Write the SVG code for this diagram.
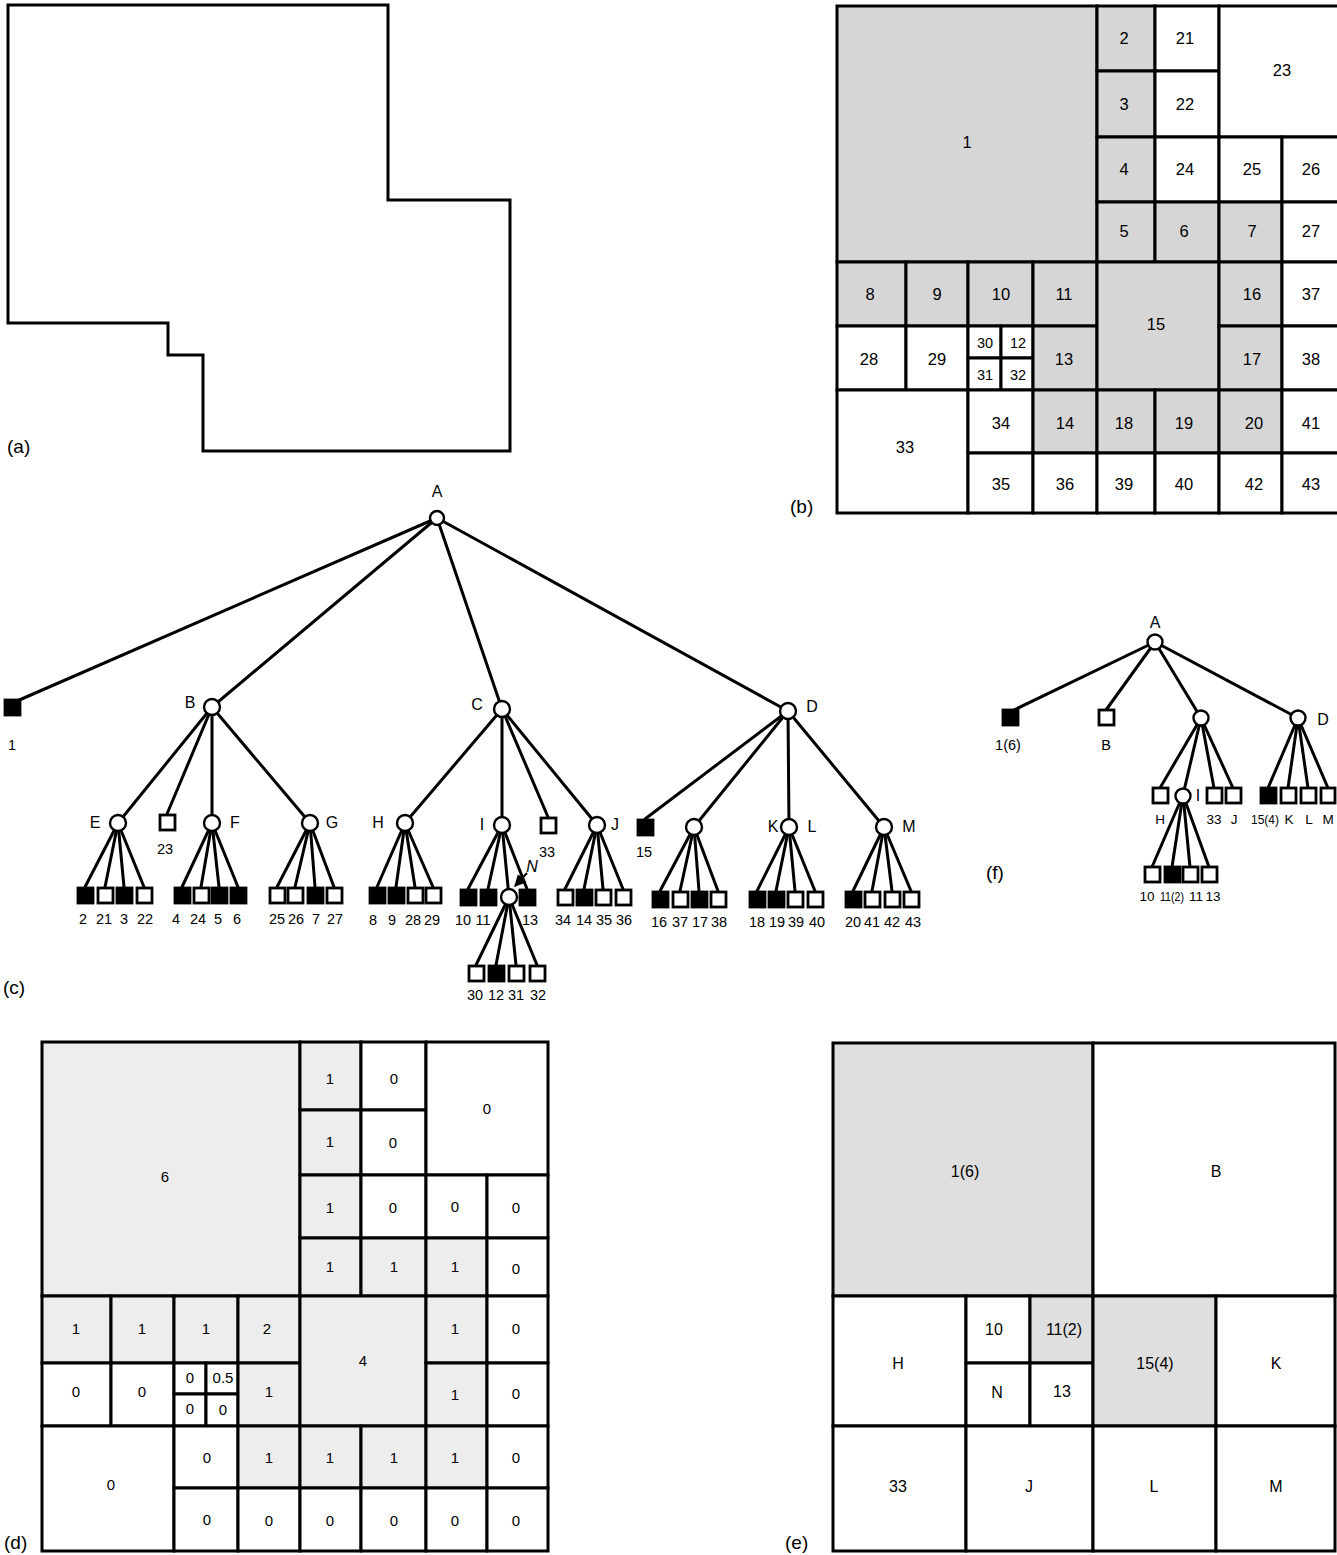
<svg xmlns="http://www.w3.org/2000/svg" width="1337" height="1555" viewBox="0 0 1337 1555">
<style>
text { font-family: "Liberation Sans", Arial, sans-serif; fill: #000; text-anchor: middle; }
.cap { font-size: 19px; text-anchor: start; }
.gb { font-size: 16.5px; }
.gs { font-size: 14.5px; }
.gd { font-size: 15px; }
.ge { font-size: 16px; }
.tl { font-size: 14.5px; }
.tf { font-size: 13.5px; }
.tn { font-size: 16px; }
.cell { stroke: #000; stroke-width: 3; }
.w { fill: #fff; }
.sb { fill: #d6d6d6; }
.sd { fill: #ededed; }
.se { fill: #dfdfdf; }
.edge { stroke: #000; stroke-width: 3; fill: none; stroke-linecap: round; }
.nd { fill: #fff; stroke: #000; stroke-width: 2.4; }
.lw { fill: #fff; stroke: #000; stroke-width: 2.8; }
.lk { fill: #000; stroke: #000; stroke-width: 2.8; }
</style>
<defs>
<marker id="arr" viewBox="0 0 10 10" refX="9" refY="5" markerWidth="6" markerHeight="6" orient="auto">
<path d="M0,0 L10,5 L0,10 z" fill="#000"/>
</marker>
</defs>

<!-- (a) region outline -->
<g id="panel-a">
<polygon points="8,5 388,5 388,200 510,200 510,451 203,451 203,355 168,355 168,323 8,323" fill="none" stroke="#000" stroke-width="3"/>
<text class="cap" x="7" y="453">(a)</text>
</g>

<!-- (b) quadtree blocks -->
<g id="panel-b">
<rect class="cell sb" x="837" y="6" width="260" height="256"/>
<rect class="cell sb" x="1097" y="6" width="58" height="65"/>
<rect class="cell w" x="1155" y="6" width="64" height="65"/>
<rect class="cell sb" x="1097" y="71" width="58" height="66"/>
<rect class="cell w" x="1155" y="71" width="64" height="66"/>
<rect class="cell w" x="1219" y="6" width="126" height="131"/>
<rect class="cell sb" x="1097" y="137" width="58" height="65"/>
<rect class="cell w" x="1155" y="137" width="64" height="65"/>
<rect class="cell w" x="1219" y="137" width="63" height="65"/>
<rect class="cell w" x="1282" y="137" width="63" height="65"/>
<rect class="cell sb" x="1097" y="202" width="58" height="60"/>
<rect class="cell sb" x="1155" y="202" width="64" height="60"/>
<rect class="cell sb" x="1219" y="202" width="63" height="60"/>
<rect class="cell w" x="1282" y="202" width="63" height="60"/>
<rect class="cell sb" x="837" y="262" width="69" height="64"/>
<rect class="cell sb" x="906" y="262" width="62" height="64"/>
<rect class="cell sb" x="968" y="262" width="65" height="64"/>
<rect class="cell sb" x="1033" y="262" width="64" height="64"/>
<rect class="cell w" x="837" y="326" width="69" height="64"/>
<rect class="cell w" x="906" y="326" width="62" height="64"/>
<rect class="cell w" x="968" y="326" width="33" height="32"/>
<rect class="cell w" x="1001" y="326" width="32" height="32"/>
<rect class="cell w" x="968" y="358" width="33" height="32"/>
<rect class="cell w" x="1001" y="358" width="32" height="32"/>
<rect class="cell sb" x="1033" y="326" width="64" height="64"/>
<rect class="cell sb" x="1097" y="262" width="122" height="128"/>
<rect class="cell sb" x="1219" y="262" width="63" height="64"/>
<rect class="cell w" x="1282" y="262" width="63" height="64"/>
<rect class="cell sb" x="1219" y="326" width="63" height="64"/>
<rect class="cell w" x="1282" y="326" width="63" height="64"/>
<rect class="cell w" x="837" y="390" width="131" height="123"/>
<rect class="cell w" x="968" y="390" width="65" height="63"/>
<rect class="cell sb" x="1033" y="390" width="64" height="63"/>
<rect class="cell w" x="968" y="453" width="65" height="60"/>
<rect class="cell w" x="1033" y="453" width="64" height="60"/>
<rect class="cell sb" x="1097" y="390" width="58" height="63"/>
<rect class="cell sb" x="1155" y="390" width="64" height="63"/>
<rect class="cell w" x="1097" y="453" width="58" height="60"/>
<rect class="cell w" x="1155" y="453" width="64" height="60"/>
<rect class="cell sb" x="1219" y="390" width="63" height="63"/>
<rect class="cell w" x="1282" y="390" width="63" height="63"/>
<rect class="cell w" x="1219" y="453" width="63" height="60"/>
<rect class="cell w" x="1282" y="453" width="63" height="60"/>
<g class="gb">
<text x="967" y="148">1</text>
<text x="1124" y="44">2</text>
<text x="1185" y="44">21</text>
<text x="1124" y="110">3</text>
<text x="1185" y="110">22</text>
<text x="1282" y="76">23</text>
<text x="1124" y="175">4</text>
<text x="1185" y="175">24</text>
<text x="1252" y="175">25</text>
<text x="1311" y="175">26</text>
<text x="1124" y="237">5</text>
<text x="1184" y="237">6</text>
<text x="1252" y="237">7</text>
<text x="1311" y="237">27</text>
<text x="870" y="300">8</text>
<text x="937" y="300">9</text>
<text x="1001" y="300">10</text>
<text x="1064" y="300">11</text>
<text x="869" y="365">28</text>
<text x="937" y="365">29</text>
<text x="1064" y="365">13</text>
<text x="1156" y="330">15</text>
<text x="1252" y="300">16</text>
<text x="1311" y="300">37</text>
<text x="1252" y="365">17</text>
<text x="1311" y="365">38</text>
<text x="905" y="453">33</text>
<text x="1001" y="429">34</text>
<text x="1065" y="429">14</text>
<text x="1001" y="490">35</text>
<text x="1065" y="490">36</text>
<text x="1124" y="429">18</text>
<text x="1184" y="429">19</text>
<text x="1124" y="490">39</text>
<text x="1184" y="490">40</text>
<text x="1254" y="429">20</text>
<text x="1311" y="429">41</text>
<text x="1254" y="490">42</text>
<text x="1311" y="490">43</text>
</g>
<g class="gs">
<text x="985" y="348">30</text>
<text x="1018" y="348">12</text>
<text x="985" y="380">31</text>
<text x="1018" y="380">32</text>
</g>
<text class="cap" x="790" y="513">(b)</text>
</g>

<!-- (c) tree: connectors -->
<g id="connectors-c">
<line class="edge" x1="437" y1="518" x2="17" y2="701"/>
<line class="edge" x1="437" y1="518" x2="212" y2="707"/>
<line class="edge" x1="437" y1="518" x2="502" y2="709"/>
<line class="edge" x1="437" y1="518" x2="788" y2="711"/>
<line class="edge" x1="212" y1="707" x2="118" y2="823"/>
<line class="edge" x1="212" y1="707" x2="167" y2="814"/>
<line class="edge" x1="212" y1="707" x2="212" y2="823"/>
<line class="edge" x1="212" y1="707" x2="310" y2="823"/>
<line class="edge" x1="502" y1="709" x2="405" y2="823"/>
<line class="edge" x1="502" y1="709" x2="502" y2="825"/>
<line class="edge" x1="502" y1="709" x2="548" y2="817"/>
<line class="edge" x1="502" y1="709" x2="597" y2="825"/>
<line class="edge" x1="788" y1="711" x2="645" y2="819"/>
<line class="edge" x1="788" y1="711" x2="694" y2="827"/>
<line class="edge" x1="788" y1="711" x2="789" y2="827"/>
<line class="edge" x1="788" y1="711" x2="884" y2="827"/>
<line class="edge" x1="118" y1="823" x2="85" y2="887"/>
<line class="edge" x1="118" y1="823" x2="105" y2="887"/>
<line class="edge" x1="118" y1="823" x2="124" y2="887"/>
<line class="edge" x1="118" y1="823" x2="144" y2="887"/>
<line class="edge" x1="212" y1="823" x2="182" y2="887"/>
<line class="edge" x1="212" y1="823" x2="201" y2="887"/>
<line class="edge" x1="212" y1="823" x2="219" y2="887"/>
<line class="edge" x1="212" y1="823" x2="238" y2="887"/>
<line class="edge" x1="310" y1="823" x2="277" y2="887"/>
<line class="edge" x1="310" y1="823" x2="295" y2="887"/>
<line class="edge" x1="310" y1="823" x2="315" y2="887"/>
<line class="edge" x1="310" y1="823" x2="334" y2="887"/>
<line class="edge" x1="405" y1="823" x2="377" y2="887"/>
<line class="edge" x1="405" y1="823" x2="396" y2="887"/>
<line class="edge" x1="405" y1="823" x2="415" y2="887"/>
<line class="edge" x1="405" y1="823" x2="433" y2="887"/>
<line class="edge" x1="502" y1="825" x2="468" y2="889"/>
<line class="edge" x1="502" y1="825" x2="488" y2="889"/>
<line class="edge" x1="502" y1="825" x2="509" y2="897"/>
<line class="edge" x1="502" y1="825" x2="527" y2="889"/>
<line class="edge" x1="509" y1="897" x2="476" y2="965"/>
<line class="edge" x1="509" y1="897" x2="496" y2="965"/>
<line class="edge" x1="509" y1="897" x2="516" y2="965"/>
<line class="edge" x1="509" y1="897" x2="537" y2="965"/>
<line class="edge" x1="597" y1="825" x2="565" y2="889"/>
<line class="edge" x1="597" y1="825" x2="584" y2="889"/>
<line class="edge" x1="597" y1="825" x2="603" y2="889"/>
<line class="edge" x1="597" y1="825" x2="623" y2="889"/>
<line class="edge" x1="694" y1="827" x2="660" y2="891"/>
<line class="edge" x1="694" y1="827" x2="680" y2="891"/>
<line class="edge" x1="694" y1="827" x2="699" y2="891"/>
<line class="edge" x1="694" y1="827" x2="718" y2="891"/>
<line class="edge" x1="789" y1="827" x2="757" y2="891"/>
<line class="edge" x1="789" y1="827" x2="776" y2="891"/>
<line class="edge" x1="789" y1="827" x2="795" y2="891"/>
<line class="edge" x1="789" y1="827" x2="815" y2="891"/>
<line class="edge" x1="884" y1="827" x2="853" y2="891"/>
<line class="edge" x1="884" y1="827" x2="872" y2="891"/>
<line class="edge" x1="884" y1="827" x2="892" y2="891"/>
<line class="edge" x1="884" y1="827" x2="911" y2="891"/>
<line x1="527" y1="873" x2="515" y2="886" stroke="#000" stroke-width="2" marker-end="url(#arr)"/>
</g>

<!-- (c) tree: nodes -->
<g id="nodes-c">
<g id="c-A"><circle class="nd" cx="437" cy="518" r="7"/><text class="tn" x="437" y="497">A</text></g>
<g id="c-1"><rect class="lk" x="5" y="700" width="15" height="15"/><text class="tl" x="12" y="750">1</text></g>
<g id="c-B"><circle class="nd" cx="212" cy="707" r="8"/><text class="tn" x="190" y="708">B</text></g>
<g id="c-C"><circle class="nd" cx="502" cy="709" r="8"/><text class="tn" x="477" y="710">C</text></g>
<g id="c-D"><circle class="nd" cx="788" cy="711" r="8"/><text class="tn" x="812" y="712">D</text></g>
<g id="c-E"><circle class="nd" cx="118" cy="823" r="8"/><text class="tn" x="95" y="828">E</text></g>
<g id="c-23"><rect class="lw" x="160" y="815" width="15" height="15"/><text class="tl" x="165" y="854">23</text></g>
<g id="c-F"><circle class="nd" cx="212" cy="823" r="8"/><text class="tn" x="235" y="828">F</text></g>
<g id="c-G"><circle class="nd" cx="310" cy="823" r="8"/><text class="tn" x="332" y="828">G</text></g>
<g id="c-H"><circle class="nd" cx="405" cy="823" r="8"/><text class="tn" x="378" y="828">H</text></g>
<g id="c-I"><circle class="nd" cx="502" cy="825" r="8"/><text class="tn" x="482" y="830">I</text></g>
<g id="c-33"><rect class="lw" x="541" y="818" width="15" height="15"/><text class="tl" x="547" y="857">33</text></g>
<g id="c-J"><circle class="nd" cx="597" cy="825" r="8"/><text class="tn" x="615" y="830">J</text></g>
<g id="c-15"><rect class="lk" x="638" y="820" width="15" height="15"/><text class="tl" x="644" y="857">15</text></g>
<g id="c-U"><circle class="nd" cx="694" cy="827" r="8"/></g>
<g id="c-KL"><circle class="nd" cx="789" cy="827" r="8"/><text class="tn" x="773" y="832">K</text><text class="tn" x="812" y="832">L</text></g>
<g id="c-M"><circle class="nd" cx="884" cy="827" r="8"/><text class="tn" x="909" y="832">M</text></g>
<g id="c-N"><circle class="nd" cx="509" cy="897" r="8"/><text class="tn" x="532" y="872" font-style="italic">N</text></g>
<!-- leaves of E -->
<g id="c-2"><rect class="lk" x="78" y="888" width="15" height="15"/><text class="tl" x="83" y="924">2</text></g>
<g id="c-21"><rect class="lw" x="98" y="888" width="15" height="15"/><text class="tl" x="104" y="924">21</text></g>
<g id="c-3"><rect class="lk" x="117" y="888" width="15" height="15"/><text class="tl" x="124" y="924">3</text></g>
<g id="c-22"><rect class="lw" x="137" y="888" width="15" height="15"/><text class="tl" x="145" y="924">22</text></g>
<!-- leaves of F -->
<g id="c-4"><rect class="lk" x="175" y="888" width="15" height="15"/><text class="tl" x="176" y="924">4</text></g>
<g id="c-24"><rect class="lw" x="194" y="888" width="15" height="15"/><text class="tl" x="198" y="924">24</text></g>
<g id="c-5"><rect class="lk" x="212" y="888" width="15" height="15"/><text class="tl" x="218" y="924">5</text></g>
<g id="c-6"><rect class="lk" x="231" y="888" width="15" height="15"/><text class="tl" x="237" y="924">6</text></g>
<!-- leaves of G -->
<g id="c-25"><rect class="lw" x="270" y="888" width="15" height="15"/><text class="tl" x="277" y="924">25</text></g>
<g id="c-26"><rect class="lw" x="288" y="888" width="15" height="15"/><text class="tl" x="296" y="924">26</text></g>
<g id="c-7"><rect class="lk" x="308" y="888" width="15" height="15"/><text class="tl" x="316" y="924">7</text></g>
<g id="c-27"><rect class="lw" x="327" y="888" width="15" height="15"/><text class="tl" x="335" y="924">27</text></g>
<!-- leaves of H -->
<g id="c-8"><rect class="lk" x="370" y="888" width="15" height="15"/><text class="tl" x="373" y="925">8</text></g>
<g id="c-9"><rect class="lk" x="389" y="888" width="15" height="15"/><text class="tl" x="392" y="925">9</text></g>
<g id="c-28"><rect class="lw" x="408" y="888" width="15" height="15"/><text class="tl" x="413" y="925">28</text></g>
<g id="c-29"><rect class="lw" x="426" y="888" width="15" height="15"/><text class="tl" x="432" y="925">29</text></g>
<!-- leaves of I -->
<g id="c-10"><rect class="lk" x="461" y="890" width="15" height="15"/><text class="tl" x="463" y="925">10</text></g>
<g id="c-11"><rect class="lk" x="481" y="890" width="15" height="15"/><text class="tl" x="483" y="925">11</text></g>
<g id="c-13"><rect class="lk" x="520" y="890" width="15" height="15"/><text class="tl" x="530" y="925">13</text></g>
<!-- leaves of N -->
<g id="c-30"><rect class="lw" x="469" y="966" width="15" height="15"/><text class="tl" x="475" y="1000">30</text></g>
<g id="c-12"><rect class="lk" x="489" y="966" width="15" height="15"/><text class="tl" x="496" y="1000">12</text></g>
<g id="c-31"><rect class="lw" x="509" y="966" width="15" height="15"/><text class="tl" x="516" y="1000">31</text></g>
<g id="c-32"><rect class="lw" x="530" y="966" width="15" height="15"/><text class="tl" x="538" y="1000">32</text></g>
<!-- leaves of J -->
<g id="c-34"><rect class="lw" x="558" y="890" width="15" height="15"/><text class="tl" x="563" y="925">34</text></g>
<g id="c-14"><rect class="lk" x="577" y="890" width="15" height="15"/><text class="tl" x="584" y="925">14</text></g>
<g id="c-35"><rect class="lw" x="596" y="890" width="15" height="15"/><text class="tl" x="604" y="925">35</text></g>
<g id="c-36"><rect class="lw" x="616" y="890" width="15" height="15"/><text class="tl" x="624" y="925">36</text></g>
<!-- leaves of unlabeled -->
<g id="c-16"><rect class="lk" x="653" y="892" width="15" height="15"/><text class="tl" x="659" y="927">16</text></g>
<g id="c-37"><rect class="lw" x="673" y="892" width="15" height="15"/><text class="tl" x="680" y="927">37</text></g>
<g id="c-17"><rect class="lk" x="692" y="892" width="15" height="15"/><text class="tl" x="700" y="927">17</text></g>
<g id="c-38"><rect class="lw" x="711" y="892" width="15" height="15"/><text class="tl" x="719" y="927">38</text></g>
<!-- leaves of K/L -->
<g id="c-18"><rect class="lk" x="750" y="892" width="15" height="15"/><text class="tl" x="757" y="927">18</text></g>
<g id="c-19"><rect class="lk" x="769" y="892" width="15" height="15"/><text class="tl" x="777" y="927">19</text></g>
<g id="c-39"><rect class="lw" x="788" y="892" width="15" height="15"/><text class="tl" x="796" y="927">39</text></g>
<g id="c-40"><rect class="lw" x="808" y="892" width="15" height="15"/><text class="tl" x="817" y="927">40</text></g>
<!-- leaves of M -->
<g id="c-20"><rect class="lk" x="846" y="892" width="15" height="15"/><text class="tl" x="853" y="927">20</text></g>
<g id="c-41"><rect class="lw" x="865" y="892" width="15" height="15"/><text class="tl" x="872" y="927">41</text></g>
<g id="c-42"><rect class="lw" x="885" y="892" width="15" height="15"/><text class="tl" x="892" y="927">42</text></g>
<g id="c-43"><rect class="lw" x="904" y="892" width="15" height="15"/><text class="tl" x="913" y="927">43</text></g>
</g>
<text class="cap" x="3" y="994">(c)</text>

<!-- (f) tree: connectors -->
<g id="connectors-f">
<line class="edge" x1="1155" y1="642" x2="1014" y2="710"/>
<line class="edge" x1="1155" y1="642" x2="1106" y2="710"/>
<line class="edge" x1="1155" y1="642" x2="1201" y2="718"/>
<line class="edge" x1="1155" y1="642" x2="1298" y2="718"/>
<line class="edge" x1="1201" y1="718" x2="1160" y2="788"/>
<line class="edge" x1="1201" y1="718" x2="1183" y2="795"/>
<line class="edge" x1="1201" y1="718" x2="1214" y2="788"/>
<line class="edge" x1="1201" y1="718" x2="1233" y2="788"/>
<line class="edge" x1="1298" y1="718" x2="1268" y2="788"/>
<line class="edge" x1="1298" y1="718" x2="1288" y2="788"/>
<line class="edge" x1="1298" y1="718" x2="1308" y2="788"/>
<line class="edge" x1="1298" y1="718" x2="1328" y2="788"/>
<line class="edge" x1="1183" y1="795" x2="1152" y2="867"/>
<line class="edge" x1="1183" y1="795" x2="1172" y2="867"/>
<line class="edge" x1="1183" y1="795" x2="1190" y2="867"/>
<line class="edge" x1="1183" y1="795" x2="1209" y2="867"/>
</g>
<g id="nodes-f">
<g id="f-A"><circle class="nd" cx="1155" cy="642" r="7.5"/><text class="tn" x="1155" y="628">A</text></g>
<g id="f-16"><rect class="lk" x="1003" y="710" width="15" height="15"/><text class="tl" x="1008" y="750">1(6)</text></g>
<g id="f-B"><rect class="lw" x="1099" y="710" width="15" height="15"/><text class="tl" x="1106" y="750">B</text></g>
<g id="f-C"><circle class="nd" cx="1201" cy="718" r="7.5"/></g>
<g id="f-D"><circle class="nd" cx="1298" cy="718" r="7.5"/><text class="tn" x="1323" y="725">D</text></g>
<g id="f-H"><rect class="lw" x="1153" y="788" width="15" height="15"/><text class="tf" x="1160" y="824">H</text></g>
<g id="f-I"><circle class="nd" cx="1183" cy="796" r="7.5"/><text class="tn" x="1198" y="801">I</text></g>
<g id="f-33"><rect class="lw" x="1207" y="788" width="15" height="15"/><text class="tf" x="1214" y="824">33</text></g>
<g id="f-J"><rect class="lw" x="1226" y="788" width="15" height="15"/><text class="tf" x="1234" y="824">J</text></g>
<g id="f-154"><rect class="lk" x="1261" y="788" width="15" height="15"/><text class="tf" x="1265" y="824" textLength="28" lengthAdjust="spacingAndGlyphs">15(4)</text></g>
<g id="f-K"><rect class="lw" x="1281" y="788" width="15" height="15"/><text class="tf" x="1289" y="824">K</text></g>
<g id="f-L"><rect class="lw" x="1301" y="788" width="15" height="15"/><text class="tf" x="1309" y="824">L</text></g>
<g id="f-M"><rect class="lw" x="1321" y="788" width="14" height="15"/><text class="tf" x="1328" y="824">M</text></g>
<g id="f-10"><rect class="lw" x="1145" y="867" width="15" height="15"/><text class="tf" x="1147" y="901">10</text></g>
<g id="f-112"><rect class="lk" x="1165" y="867" width="15" height="15"/><text class="tf" x="1172" y="901" textLength="24" lengthAdjust="spacingAndGlyphs">11(2)</text></g>
<g id="f-11"><rect class="lw" x="1183" y="867" width="15" height="15"/><text class="tf" x="1196" y="901">11</text></g>
<g id="f-13"><rect class="lw" x="1202" y="867" width="15" height="15"/><text class="tf" x="1213" y="901">13</text></g>
</g>
<text class="cap" x="986" y="879">(f)</text>

<!-- (d) grid with values -->
<g id="panel-d">
<rect class="cell sd" x="42" y="1042" width="258" height="254"/>
<rect class="cell sd" x="300" y="1042" width="61" height="68"/>
<rect class="cell w" x="361" y="1042" width="65" height="68"/>
<rect class="cell sd" x="300" y="1110" width="61" height="65"/>
<rect class="cell w" x="361" y="1110" width="65" height="65"/>
<rect class="cell w" x="426" y="1042" width="122" height="133"/>
<rect class="cell sd" x="300" y="1175" width="61" height="63"/>
<rect class="cell w" x="361" y="1175" width="65" height="63"/>
<rect class="cell w" x="426" y="1175" width="61" height="63"/>
<rect class="cell w" x="487" y="1175" width="61" height="63"/>
<rect class="cell sd" x="300" y="1238" width="61" height="58"/>
<rect class="cell sd" x="361" y="1238" width="65" height="58"/>
<rect class="cell sd" x="426" y="1238" width="61" height="58"/>
<rect class="cell w" x="487" y="1238" width="61" height="58"/>
<rect class="cell sd" x="42" y="1296" width="69" height="67"/>
<rect class="cell sd" x="111" y="1296" width="63" height="67"/>
<rect class="cell sd" x="174" y="1296" width="64" height="67"/>
<rect class="cell sd" x="238" y="1296" width="62" height="67"/>
<rect class="cell w" x="42" y="1363" width="69" height="63"/>
<rect class="cell w" x="111" y="1363" width="63" height="63"/>
<rect class="cell w" x="174" y="1363" width="32" height="31"/>
<rect class="cell w" x="206" y="1363" width="32" height="31"/>
<rect class="cell w" x="174" y="1394" width="32" height="32"/>
<rect class="cell w" x="206" y="1394" width="32" height="32"/>
<rect class="cell sd" x="238" y="1363" width="62" height="63"/>
<rect class="cell sd" x="300" y="1296" width="126" height="130"/>
<rect class="cell sd" x="426" y="1296" width="61" height="67"/>
<rect class="cell w" x="487" y="1296" width="61" height="67"/>
<rect class="cell sd" x="426" y="1363" width="61" height="63"/>
<rect class="cell w" x="487" y="1363" width="61" height="63"/>
<rect class="cell w" x="42" y="1426" width="132" height="125"/>
<rect class="cell w" x="174" y="1426" width="64" height="62"/>
<rect class="cell sd" x="238" y="1426" width="62" height="62"/>
<rect class="cell w" x="174" y="1488" width="64" height="63"/>
<rect class="cell w" x="238" y="1488" width="62" height="63"/>
<rect class="cell sd" x="300" y="1426" width="61" height="62"/>
<rect class="cell sd" x="361" y="1426" width="65" height="62"/>
<rect class="cell w" x="300" y="1488" width="61" height="63"/>
<rect class="cell w" x="361" y="1488" width="65" height="63"/>
<rect class="cell sd" x="426" y="1426" width="61" height="62"/>
<rect class="cell w" x="487" y="1426" width="61" height="62"/>
<rect class="cell w" x="426" y="1488" width="61" height="63"/>
<rect class="cell w" x="487" y="1488" width="61" height="63"/>
<g class="gd">
<text x="165" y="1182">6</text>
<text x="330" y="1084">1</text>
<text x="394" y="1084">0</text>
<text x="487" y="1114">0</text>
<text x="330" y="1147">1</text>
<text x="393" y="1148">0</text>
<text x="330" y="1213">1</text>
<text x="393" y="1213">0</text>
<text x="455" y="1212">0</text>
<text x="516" y="1213">0</text>
<text x="330" y="1272">1</text>
<text x="394" y="1272">1</text>
<text x="455" y="1272">1</text>
<text x="516" y="1274">0</text>
<text x="76" y="1334">1</text>
<text x="142" y="1334">1</text>
<text x="206" y="1334">1</text>
<text x="267" y="1334">2</text>
<text x="76" y="1397">0</text>
<text x="142" y="1397">0</text>
<text x="190" y="1383">0</text>
<text x="223" y="1383">0.5</text>
<text x="190" y="1414">0</text>
<text x="223" y="1415">0</text>
<text x="269" y="1397">1</text>
<text x="363" y="1366">4</text>
<text x="455" y="1334">1</text>
<text x="516" y="1334">0</text>
<text x="455" y="1400">1</text>
<text x="516" y="1399">0</text>
<text x="111" y="1490">0</text>
<text x="207" y="1463">0</text>
<text x="269" y="1463">1</text>
<text x="330" y="1463">1</text>
<text x="394" y="1463">1</text>
<text x="455" y="1463">1</text>
<text x="516" y="1463">0</text>
<text x="207" y="1525">0</text>
<text x="269" y="1526">0</text>
<text x="330" y="1526">0</text>
<text x="394" y="1526">0</text>
<text x="455" y="1526">0</text>
<text x="516" y="1526">0</text>
</g>
<text class="cap" x="4" y="1549">(d)</text>
</g>

<!-- (e) merged blocks -->
<g id="panel-e">
<rect class="cell se" x="833" y="1043" width="260" height="253"/>
<rect class="cell w" x="1093" y="1043" width="242" height="253"/>
<rect class="cell w" x="833" y="1296" width="133" height="130"/>
<rect class="cell w" x="966" y="1296" width="64" height="67"/>
<rect class="cell se" x="1030" y="1296" width="63" height="67"/>
<rect class="cell w" x="966" y="1363" width="64" height="63"/>
<rect class="cell w" x="1030" y="1363" width="63" height="63"/>
<rect class="cell se" x="1093" y="1296" width="123" height="130"/>
<rect class="cell w" x="1216" y="1296" width="119" height="130"/>
<rect class="cell w" x="833" y="1426" width="133" height="125"/>
<rect class="cell w" x="966" y="1426" width="127" height="125"/>
<rect class="cell w" x="1093" y="1426" width="123" height="125"/>
<rect class="cell w" x="1216" y="1426" width="119" height="125"/>
<g class="ge">
<text x="965" y="1177">1(6)</text>
<text x="1216" y="1177">B</text>
<text x="898" y="1369">H</text>
<text x="994" y="1335">10</text>
<text x="1064" y="1335">11(2)</text>
<text x="997" y="1398">N</text>
<text x="1062" y="1397">13</text>
<text x="1155" y="1369">15(4)</text>
<text x="1276" y="1369">K</text>
<text x="898" y="1492">33</text>
<text x="1029" y="1492">J</text>
<text x="1154" y="1492">L</text>
<text x="1276" y="1492">M</text>
</g>
<text class="cap" x="785" y="1549">(e)</text>
</g>
</svg>
